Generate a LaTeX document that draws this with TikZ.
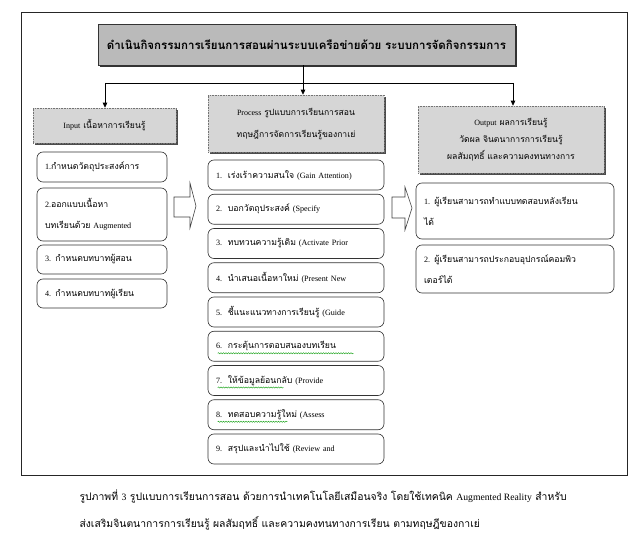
\documentclass[tikz,border=0pt]{standalone}
\usepackage{fontspec}
\setmainfont[Script=Thai]{Loma}
\newfontfamily\en[Scale=0.93]{Liberation Serif}
\usetikzlibrary{arrows.meta,shadows,calc,decorations.pathmorphing}
\begin{document}
\begin{tikzpicture}[x=1pt,y=-1pt,
  frame/.style={draw=black!85,line width=0.8pt},
  titlebox/.style={draw=black!80,fill=black!27,line width=0.6pt,
    drop shadow={shadow xshift=1.6pt,shadow yshift=-1.6pt,fill=black!80,opacity=1},
    minimum width=417pt,minimum height=41pt,inner sep=0pt,
    font=\fontsize{11.5}{14}\selectfont\bfseries},
  header/.style={draw=black!55,densely dotted,fill=black!16,line width=0.6pt,
    drop shadow={shadow xshift=1.6pt,shadow yshift=-1.6pt,fill=black!70,opacity=1},
    inner sep=0pt,align=center},
  itembox/.style={draw=black!80,rounded corners=6pt,fill=white,line width=0.6pt,
    inner xsep=8pt,inner ysep=0pt,align=left},
  inbox/.style={itembox,text width=114pt,minimum width=130pt},
  prbox/.style={itembox,text width=160pt,minimum width=176pt,minimum height=30pt},
  outbox/.style={itembox,text width=182pt,minimum width=198pt},
  conn/.style={draw=black,line width=0.8pt,-{Triangle[length=5pt,width=4.5pt]}},
  blockarrow/.style={draw=black!75,line width=0.6pt,fill=white},
  spell/.style={draw=green!60!black,line width=0.4pt,decorate,
    decoration={snake,amplitude=0.6pt,segment length=2.5pt}},
  itemfont/.style={font=\fontsize{8.7}{21}\selectfont},
  hdrfont/.style={font=\fontsize{8.6}{17}\selectfont}
]
\useasboundingbox (0,0) rectangle (640,548);

% outer frame
\draw[frame,drop shadow={shadow xshift=1pt,shadow yshift=-1pt,fill=black!60,opacity=1},fill=white] (21,12) rectangle (627,475);

% title
\node[titlebox] (title) at (306.5,44.5) {ดำเนินกิจกรรมการเรียนการสอนผ่านระบบเครือข่ายด้วย ระบบการจัดกิจกรรมการ};

% headers
\node[header,hdrfont,minimum width=143pt,minimum height=35pt] (inhdr) at (104.5,125.5)
  {{\en Input} เนื้อหาการเรียนรู้};
\node[header,font=\fontsize{8.6}{22}\selectfont,minimum width=176pt,minimum height=57pt] (prhdr) at (296,123.5)
  {{\en Process} รูปแบบการเรียนการสอน\\ทฤษฎีการจัดการเรียนรู้ของกาเย่};
\node[header,hdrfont,minimum width=186pt,minimum height=67pt] (outhdr) at (511,139.5)
  {{\en Output} ผลการเรียนรู้\\วัดผล จินตนาการการเรียนรู้\\ผลสัมฤทธิ์ และความคงทนทางการ};

% connectors
\coordinate (split) at (303,83);
\coordinate (lft) at (105,83);
\coordinate (rgt) at (513,83);
\draw[draw=black,line width=0.8pt] (title.south -| split) -- (split);
\draw[draw=black,line width=0.8pt] (lft) -- (rgt);
\draw[conn] (lft) -- (lft |- inhdr.north);
\draw[conn] (split) -- (split |- prhdr.north);
\draw[conn] (rgt) -- (rgt |- outhdr.north);

% input items
\begin{scope}[itemfont]
\node[inbox,minimum height=30pt] (in1) at (102,167) {{\en 1.}กำหนดวัตถุประสงค์การ};
\node[inbox,minimum height=53pt] (in2) at (102,214.5) {{\en 2.}ออกแบบเนื้อหา\\บทเรียนด้วย {\en Augmented}};
\node[inbox,minimum height=29pt] (in3) at (102,259.5) {{\en 3.} กำหนดบทบาทผู้สอน};
\node[inbox,minimum height=29pt] (in4) at (102,293.5) {{\en 4.} กำหนดบทบาทผู้เรียน};

% process items
\node[prbox] (p1) at (296,175) {{\en 1.}\ \ เร่งเร้าความสนใจ {\en (Gain Attention)}};
\node[prbox] (p2) at (296,209.25) {{\en 2.}\ \ บอกวัตถุประสงค์ {\en (Specify}};
\node[prbox] (p3) at (296,243.5) {{\en 3.}\ \ ทบทวนความรู้เดิม {\en (Activate Prior}};
\node[prbox] (p4) at (296,277.75) {{\en 4.}\ \ นำเสนอเนื้อหาใหม่ {\en (Present New}};
\node[prbox] (p5) at (296,312) {{\en 5.}\ \ ชี้แนะแนวทางการเรียนรู้ {\en (Guide}};
\node[prbox] (p6) at (296,346.25) {{\en 6.}\ \ กระตุ้นการตอบสนองบทเรียน};
\node[prbox] (p7) at (296,380.5) {{\en 7.}\ \ ให้ข้อมูลย้อนกลับ {\en (Provide}};
\node[prbox] (p8) at (296,414.75) {{\en 8.}\ \ ทดสอบความรู้ใหม่ {\en (Assess}};
\node[prbox] (p9) at (296,449) {{\en 9.}\ \ สรุปและนำไปใช้ {\en (Review and}};

% output items
\node[outbox,minimum height=56pt] (o1) at (515,211) {{\en 1.} ผู้เรียนสามารถทำแบบทดสอบหลังเรียน\\ได้};
\node[outbox,minimum height=48pt] (o2) at (515,269) {{\en 2.} ผู้เรียนสามารถประกอบอุปกรณ์คอมพิว\\เตอร์ได้};
\end{scope}

% spelling underlines
\draw[spell] ($(p6.west)+(10,7)$) -- ($(p6.west)+(146,7)$);
\draw[spell] ($(p7.west)+(10,7)$) -- ($(p7.west)+(76,7)$);
\draw[spell] ($(p8.west)+(10,7)$) -- ($(p8.west)+(80,7)$);

% block arrows
\draw[blockarrow] (174,197) -- (190,197) -- (190,183) -- (196,206) -- (190,228) -- (190,217) -- (174,217) -- cycle;
\draw[blockarrow] (392,197) -- (405,197) -- (405,187) -- (412,208) -- (405,230) -- (405,218) -- (392,218) -- cycle;

% caption
\node[anchor=west,align=left,font=\fontsize{10.4}{27}\selectfont] (cap) at (76,510)
  {รูปภาพที่ {\en 3} รูปแบบการเรียนการสอน ด้วยการนำเทคโนโลยีเสมือนจริง โดยใช้เทคนิค {\en Augmented Reality} สำหรับ\\ส่งเสริมจินตนาการการเรียนรู้ ผลสัมฤทธิ์ และความคงทนทางการเรียน ตามทฤษฎีของกาเย่};
\end{tikzpicture}
\end{document}
